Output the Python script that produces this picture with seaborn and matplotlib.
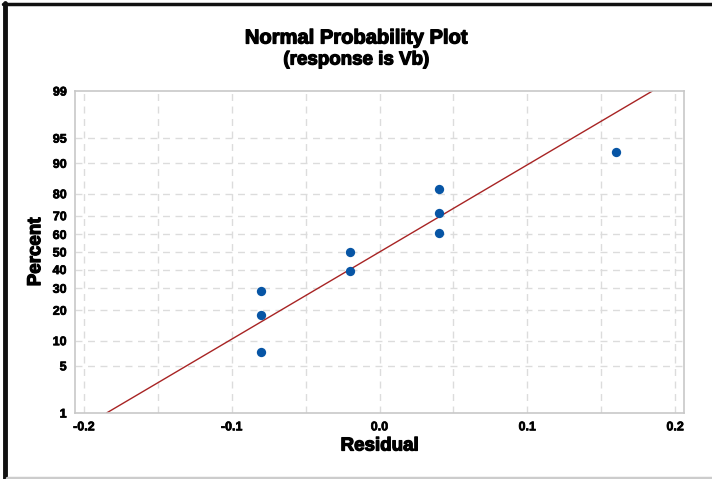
import math
import numpy as np
import seaborn as sns
import matplotlib
matplotlib.use("Agg")
import matplotlib.pyplot as plt
import matplotlib.patheffects as pe
from matplotlib.lines import Line2D

# residuals (sorted) and their plotted percents
residuals = [-0.08, -0.08, -0.08, -0.02, -0.02, 0.04, 0.04, 0.04, 0.16]
percents = [7.4, 18.1, 28.7, 39.4, 50.0, 60.6, 71.3, 81.9, 92.6]

y_ticks = [1, 5, 10, 20, 30, 40, 50, 60, 70, 80, 90, 95, 99]
x_ticks = [-0.2, -0.1, 0.0, 0.1, 0.2]
x_grid = [-0.2, -0.15, -0.1, -0.05, 0.0, 0.05, 0.1, 0.15, 0.2]

_erf = np.vectorize(math.erf, otypes=[float])


def norm_cdf(z):
    z = np.asarray(z, dtype=float)
    if z.size == 0:
        return z.copy()
    return 0.5 * (1 + _erf(z / math.sqrt(2)))


def norm_ppf(p):
    # Newton on erf, good enough for plotting
    p = np.clip(np.asarray(p, dtype=float), 1e-9, 1 - 1e-9)
    z = np.zeros_like(p)
    if p.size == 0:
        return z
    for _ in range(60):
        f = norm_cdf(z) - p
        d = np.exp(-z ** 2 / 2) / math.sqrt(2 * math.pi)
        z = z - f / np.maximum(d, 1e-12)
        z = np.clip(z, -8, 8)
    return z


def fwd(y):
    return norm_ppf(np.asarray(y, dtype=float) / 100.0)


def inv(z):
    return norm_cdf(z) * 100.0


sns.set_style("white")
plt.rcParams['font.family'] = ['Liberation Sans', 'DejaVu Sans']
plt.rcParams['text.color'] = 'black'
plt.rcParams['axes.labelcolor'] = 'black'
plt.rcParams['xtick.color'] = 'black'
plt.rcParams['ytick.color'] = 'black'

heavy = [pe.withStroke(linewidth=0.9, foreground='black')]
heavy_small = [pe.withStroke(linewidth=0.5, foreground='black')]

fig = plt.figure(figsize=(7.12, 4.79), dpi=100)
ax = fig.add_axes([75 / 712, 1 - 413 / 479, (684 - 75) / 712, (413 - 91) / 479])

ax.set_yscale('function', functions=(fwd, inv))
ax.set_ylim(1, 99)
ax.set_xlim(-0.206, 0.206)

# grid
for g in x_grid:
    ax.axvline(g, color='#dcdcdc', lw=1, ls=(0, (5, 4)), zorder=0)
for t in y_ticks[1:-1]:
    ax.axhline(t, color='#dcdcdc', lw=1, ls=(0, (5, 4)), zorder=0)

# fitted line from mean and std of the residuals
r = np.array(residuals)
mu, sd = r.mean(), r.std(ddof=1)
pp = np.linspace(1, 99, 200)
ax.plot(mu + fwd(pp) * sd, pp, color='#a82424', lw=1, zorder=2)

ax.scatter(residuals, percents, color='#0755a5', s=45, linewidths=0, zorder=3)

ax.set_yticks(y_ticks)
ax.set_yticklabels([str(t) for t in y_ticks])
ax.set_xticks(x_ticks)
ax.set_xticklabels(['-0.2', '-0.1', '0.0', '0.1', '0.2'])
ax.yaxis.set_minor_locator(matplotlib.ticker.NullLocator())
ax.tick_params(axis='both', which='both', direction='out', length=4, width=1,
               color='#bbbbbb', labelcolor='black', labelsize=9, pad=2)
for lab in ax.get_xticklabels() + ax.get_yticklabels():
    lab.set_fontweight('bold')
    lab.set_path_effects(heavy_small)
for s in ax.spines.values():
    s.set_color('#c8c8c8')
    s.set_linewidth(1.2)

ax.set_xlabel('Residual', fontsize=13.5, fontweight='bold', labelpad=3,
              path_effects=heavy)
ax.set_ylabel('Percent', fontsize=13.5, fontweight='bold', labelpad=6,
              path_effects=heavy)

fig.text(0.5, 1 - 38 / 479, 'Normal Probability Plot', ha='center', va='center',
         fontsize=14.5, fontweight='bold', path_effects=heavy)
fig.text(0.5, 1 - 60 / 479, '(response is Vb)', ha='center', va='center',
         fontsize=13.5, fontweight='bold', path_effects=heavy)

# outer frame (black left/top, grey bottom)
fig.add_artist(Line2D([5 / 712, 5 / 712], [0, 1 - 3 / 479], transform=fig.transFigure,
                      color='#111111', lw=3.5))
fig.add_artist(Line2D([3 / 712, 1], [1 - 3.5 / 479, 1 - 3.5 / 479], transform=fig.transFigure,
                      color='#111111', lw=2.5))
fig.add_artist(Line2D([7 / 712, 1], [1.5 / 479, 1.5 / 479], transform=fig.transFigure,
                      color='#cccccc', lw=2.5))

fig.savefig('out.png', dpi=100)
